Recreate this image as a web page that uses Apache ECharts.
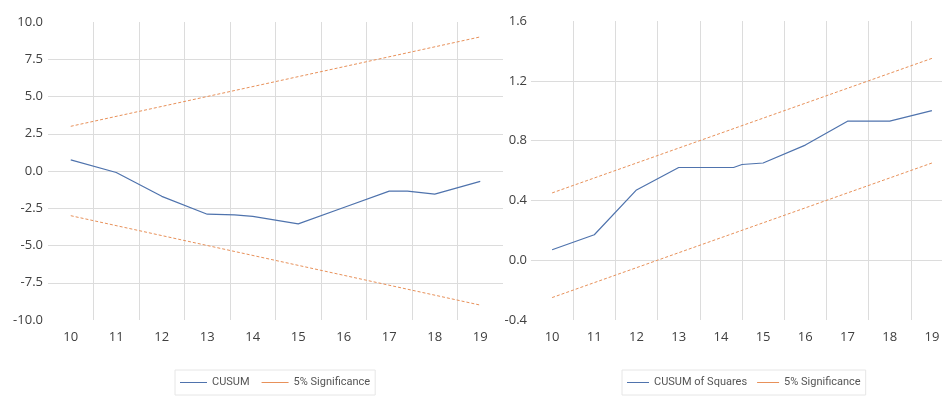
<!DOCTYPE html>
<html><head><meta charset="utf-8">
<script src="https://cdn.jsdelivr.net/npm/echarts@6/dist/echarts.min.js"></script>
<style>html,body{margin:0;padding:0;background:#fff;overflow:hidden}#c{width:960px;height:399px}</style>
</head><body><div id="c"></div>
<script>
// x-axis tick labels (shared by both panels)
const xCategories = ['10','11','12','13','14','15','16','17','18','19'];

// Left panel: CUSUM
const cusumX = [10, 11, 12, 13, 13.6, 14, 15, 16, 17, 17.4, 18, 19];
const cusumY = [0.75, -0.1, -1.7, -2.9, -2.95, -3.05, -3.55, -2.45, -1.35, -1.35, -1.55, -0.7];
const cusumBandX = [10, 19];
const cusumUpper = [3.0, 9.0];
const cusumLower = [-3.0, -9.0];

// Right panel: CUSUM of Squares
const sqX = [10, 11, 12, 13, 14.3, 14.5, 15, 16, 17, 18, 19];
const sqY = [0.07, 0.17, 0.47, 0.62, 0.62, 0.64, 0.65, 0.77, 0.93, 0.93, 1.0];
const sqBandX = [10, 19];
const sqUpper = [0.45, 1.35];
const sqLower = [-0.25, 0.65];

const zip = (xs, ys) => xs.map((x, i) => [x, ys[i]]);

const FONT = "'Open Sans', 'Liberation Sans', sans-serif";
const NARROW = "Roboto, 'Liberation Sans', sans-serif";
const TXT = '#404040';
const GRIDC = '#dcdcdc';
const BLUE = '#4f73ad';
const ORANGE = '#e8915a';

function catAxis(g) {
  return {
    type: 'category', gridIndex: g, data: xCategories, boundaryGap: true,
    axisLine: { show: false }, axisTick: { show: false },
    splitLine: { show: true, interval: 0, showMinLine: false, showMaxLine: false,
      lineStyle: { color: GRIDC, width: 1 } },
    axisLabel: { color: TXT, fontFamily: FONT, fontSize: 13, margin: 11 }
  };
}
function valXAxis(g) {
  return { type: 'value', gridIndex: g, min: 9.5, max: 19.5, show: false };
}
function yAxis(g, min, max, interval, margin) {
  return {
    type: 'value', gridIndex: g, min: min, max: max, interval: interval,
    axisLine: { show: false }, axisTick: { show: false },
    splitLine: { show: true, showMinLine: false, showMaxLine: false,
      lineStyle: { color: GRIDC, width: 1 } },
    axisLabel: { color: TXT, fontFamily: FONT, fontSize: 13, margin: margin,
      formatter: v => (Math.abs(v) < 1e-9 ? 0 : v).toFixed(1) }
  };
}
function line(name, data, xi, yi, color, dashed) {
  return {
    name: name, type: 'line', xAxisIndex: xi, yAxisIndex: yi, data: data,
    symbol: 'none', animation: false, silent: true,
    lineStyle: { color: color, width: dashed ? 1 : 1.2, type: dashed ? [3, 2] : 'solid' },
    itemStyle: { color: color }
  };
}
const legendBase = {
  top: 370, padding: [7, 5], itemGap: 12, itemWidth: 27, itemHeight: 1,
  icon: 'rect',
  borderColor: '#e6e6e6', borderWidth: 1,
  textStyle: { color: '#555', fontFamily: NARROW, fontSize: 11, padding: [0, 0, 0, 0] }
};

const chart = echarts.init(document.getElementById('c'), null, { renderer: 'canvas' });
chart.setOption({
  backgroundColor: '#fff',
  animation: false,
  grid: [
    { left: 48, top: 22, width: 455, height: 298 },
    { left: 531, top: 21, width: 422, height: 299 }
  ],
  xAxis: [catAxis(0), valXAxis(0), catAxis(1), valXAxis(1)],
  yAxis: [yAxis(0, -10, 10, 2.5, 5), yAxis(1, -0.4, 1.6, 0.4, 4)],
  legend: [
    Object.assign({}, legendBase, { left: 175, data: ['CUSUM', '5% Significance'] }),
    Object.assign({}, legendBase, { left: 622, itemWidth: 22, itemGap: 10,
      data: ['CUSUM of Squares', '5% Significance'] })
  ],
  series: [
    line('CUSUM', zip(cusumX, cusumY), 1, 0, BLUE, false),
    line('5% Significance', zip(cusumBandX, cusumUpper), 1, 0, ORANGE, true),
    line('5% Significance', zip(cusumBandX, cusumLower), 1, 0, ORANGE, true),
    line('CUSUM of Squares', zip(sqX, sqY), 3, 1, BLUE, false),
    line('5% Significance', zip(sqBandX, sqUpper), 3, 1, ORANGE, true),
    line('5% Significance', zip(sqBandX, sqLower), 3, 1, ORANGE, true)
  ]
});
</script>
</body></html>
